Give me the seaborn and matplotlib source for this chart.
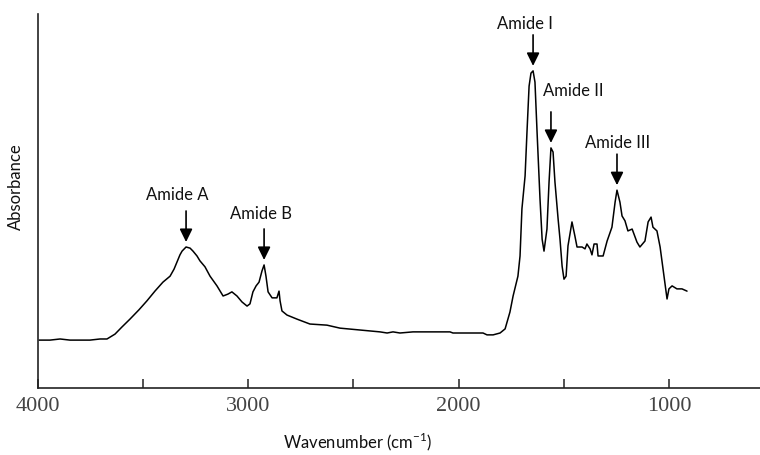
import matplotlib
matplotlib.use("Agg")
import matplotlib.pyplot as plt
import numpy as np
import pandas as pd
import seaborn as sns

# spectrum (wavenumber in cm-1, absorbance in arbitrary units)
wavenumber = [
    3995, 3943, 3895, 3848, 3800, 3753, 3705, 3672, 3634, 3601,
    3563, 3520, 3482, 3444, 3406, 3372, 3353, 3339, 3325, 3315,
    3296, 3277, 3263, 3244, 3230, 3206, 3182, 3149, 3120, 3097,
    3078, 3054, 3030, 3006, 2992, 2978, 2963, 2949, 2935, 2925,
    2916, 2906, 2887, 2864, 2854, 2849, 2840, 2816, 2768, 2707,
    2626, 2564, 2469, 2374, 2340, 2312, 2279, 2217, 2041, 2027,
    1884, 1865, 1836, 1803, 1779, 1756, 1741, 1718, 1708, 1699,
    1684, 1675, 1665, 1656, 1646, 1637, 1627, 1613, 1603, 1594,
    1580, 1570, 1561, 1551, 1542, 1527, 1518, 1508, 1499, 1489,
    1480, 1461, 1447, 1437, 1413, 1399, 1390, 1375, 1366, 1356,
    1342, 1337, 1313, 1294, 1271, 1256, 1247, 1233, 1223, 1209,
    1195, 1175, 1152, 1138, 1114, 1099, 1085, 1076, 1057, 1042,
    1028, 1009, 1000, 985, 962, 938, 914,
]
absorbance = [
    0.128, 0.128, 0.131, 0.128, 0.128, 0.128, 0.131, 0.131, 0.144, 0.163,
    0.184, 0.209, 0.233, 0.259, 0.283, 0.299, 0.318, 0.337, 0.356, 0.366,
    0.377, 0.374, 0.366, 0.353, 0.340, 0.324, 0.299, 0.273, 0.246, 0.251,
    0.257, 0.246, 0.230, 0.219, 0.225, 0.257, 0.273, 0.283, 0.313, 0.329,
    0.299, 0.257, 0.241, 0.241, 0.259, 0.233, 0.206, 0.195, 0.184, 0.171,
    0.168, 0.160, 0.155, 0.150, 0.147, 0.150, 0.147, 0.150, 0.150, 0.147,
    0.147, 0.142, 0.142, 0.147, 0.158, 0.203, 0.246, 0.299, 0.353, 0.479,
    0.567, 0.684, 0.807, 0.842, 0.848, 0.818, 0.684, 0.505, 0.398, 0.366,
    0.425, 0.551, 0.642, 0.631, 0.551, 0.452, 0.398, 0.326, 0.291, 0.299,
    0.380, 0.444, 0.406, 0.377, 0.377, 0.372, 0.385, 0.372, 0.356, 0.385,
    0.385, 0.353, 0.353, 0.393, 0.430, 0.497, 0.529, 0.497, 0.460, 0.447,
    0.420, 0.425, 0.390, 0.377, 0.393, 0.444, 0.457, 0.430, 0.420, 0.377,
    0.318, 0.238, 0.265, 0.273, 0.265, 0.265, 0.259,
]

peak_labels = ["Amide A", "Amide B", "Amide I", "Amide II", "Amide III"]
peak_wavenumber = [3296, 2925, 1646, 1561, 1247]

major_ticks = [4000, 3000, 2000, 1000]
minor_ticks = [3500, 2500, 1500]

sns.set_theme(style="white")
plt.rcParams["font.family"] = ["Lato", "DejaVu Sans"]
plt.rcParams["mathtext.fontset"] = "custom"
plt.rcParams["mathtext.rm"] = "Lato"

spectrum = pd.DataFrame({"wavenumber": wavenumber, "absorbance": absorbance})

fig = plt.figure(figsize=(7.6, 4.56), dpi=100)
ax = fig.add_axes([0.05, 0.147, 0.95, 0.820])

sns.lineplot(data=spectrum, x="wavenumber", y="absorbance", color="black",
             linewidth=1.1, estimator=None, sort=False, ax=ax)

ax.set_xlim(4000, 567)
ax.set_ylim(0, 1)

for side in ("top", "right"):
    ax.spines[side].set_visible(False)
for side in ("left", "bottom"):
    ax.spines[side].set_color("#222222")
    ax.spines[side].set_linewidth(1.2)

ax.set_yticks([])
ax.set_xticks(major_ticks)
ax.set_xticks(minor_ticks, minor=True)
ax.tick_params(axis="x", which="both", direction="in", length=6.5, width=1.1,
               color="#222222", bottom=True)
ax.tick_params(axis="x", which="major", pad=5.5, labelsize=16, labelcolor="#444444")
for lbl in ax.get_xticklabels():
    lbl.set_fontfamily("Liberation Serif")

ax.set_xlabel(r"Wavenumber (cm$^{\mathregular{-1}}$)", fontsize=12, color="#111111")
ax.xaxis.set_label_coords(0.443, -0.112)
ax.set_ylabel("Absorbance", fontsize=12, color="#111111")
ax.yaxis.set_label_coords(-0.02, 0.54)

# label offsets (pixels at 100 dpi) from each peak
text_offsets = [(-9, 53), (-3, 52), (-8, 48), (22, 58), (1, 48)]
px = 72 / 100
for label, wn, (dx, dy) in zip(peak_labels, peak_wavenumber, text_offsets):
    a = np.interp(wn, wavenumber[::-1], absorbance[::-1])
    ax.annotate("", xy=(wn, a), xytext=(0, 36 * px), textcoords="offset points",
                xycoords="data",
                arrowprops=dict(arrowstyle="-|>,head_length=0.65,head_width=0.32",
                                color="black", lw=1.2, shrinkA=0, shrinkB=5 * px))
    ax.annotate(label, xy=(wn, a), xytext=(dx * px, dy * px), textcoords="offset points",
                ha="center", va="center", fontsize=12, color="#111111")

fig.savefig("out.png", dpi=100)
